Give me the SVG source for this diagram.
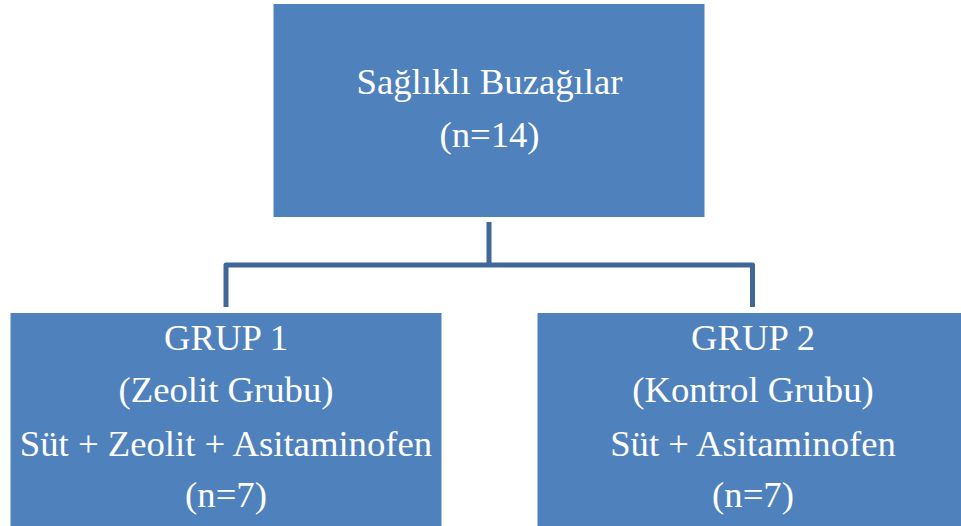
<svg xmlns="http://www.w3.org/2000/svg" width="961" height="526" viewBox="0 0 961 526">
<style>
.box{fill:#4F81BD;stroke:#4F81BD;stroke-width:1}
.t{font-family:"Liberation Serif","Times New Roman",serif;font-size:36.7px;fill:#FFFFFF;text-anchor:middle}
.conn{fill:none;stroke:#3F6797;stroke-width:5;stroke-linejoin:round}
</style>
<rect width="961" height="526" fill="#FFFFFF"/>
<g id="connectors">
<path class="conn" d="M489,222 V265 M226,307 V265 H752.5 V307"/>
</g>
<g id="node-top">
<rect class="box" x="274" y="4.5" width="430" height="212"/>
<text class="t" x="489.5" y="94.3">Sağlıklı Buzağılar</text>
<text class="t" x="489.5" y="146.7">(n=14)</text>
</g>
<g id="node-grup1">
<rect class="box" x="11" y="313.5" width="430" height="213"/>
<text class="t" x="226" y="350">GRUP 1</text>
<text class="t" x="226" y="402">(Zeolit Grubu)</text>
<text class="t" x="226" y="456">Süt + Zeolit + Asitaminofen</text>
<text class="t" x="226" y="507">(n=7)</text>
</g>
<g id="node-grup2">
<rect class="box" x="538" y="313.5" width="430" height="213"/>
<text class="t" x="753" y="350">GRUP 2</text>
<text class="t" x="753" y="402">(Kontrol Grubu)</text>
<text class="t" x="753" y="455.5">Süt + Asitaminofen</text>
<text class="t" x="753" y="507">(n=7)</text>
</g>
</svg>
